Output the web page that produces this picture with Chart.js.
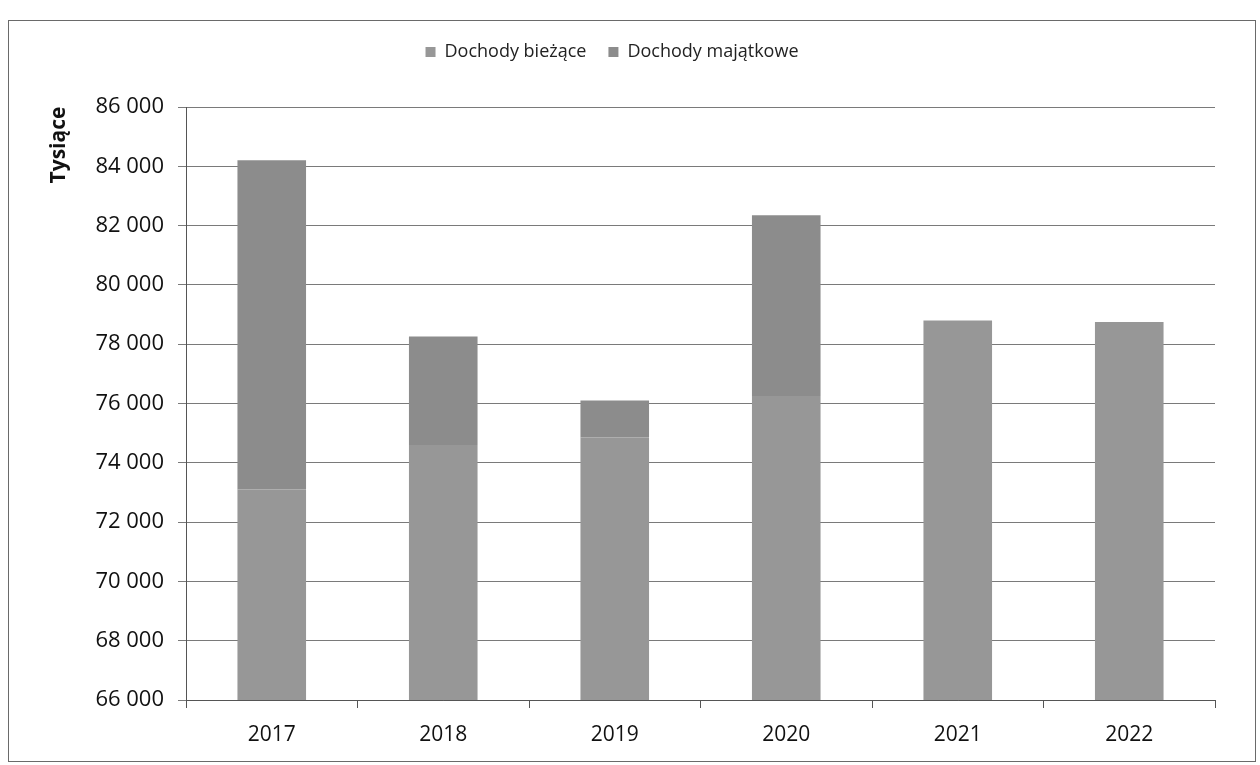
<!DOCTYPE html>
<html lang="pl">
<head>
<meta charset="UTF-8">
<title>Dochody bieżące i majątkowe</title>
<script src="https://cdn.jsdelivr.net/npm/chart.js"></script>
<style>
  body { margin: 0; background: #fff; }
  #frame { position: absolute; left: 8px; top: 20px; width: 1246px; height: 740px; border: 1px solid #6a6a6a; }
</style>
</head>
<body>
<div id="frame"><canvas id="chart"></canvas></div>
<script>
  const years = ['2017', '2018', '2019', '2020', '2021', '2022'];
  // values in thousands (Tysiące)
  const dochodyBiezace = [73100, 74600, 74850, 76250, 78800, 78750];
  const dochodyMajatkowe = [11100, 3660, 1250, 6100, 0, 0];
  const yMin = 66000, yMax = 86000, yStep = 2000;

  const fmt = v => String(v).replace(/\B(?=(\d{3})+(?!\d))/g, ' ');

  // push plot area down below the legend
  const legendSpacer = {
    id: 'legendSpacer',
    beforeInit(chart) {
      const fit = chart.legend.fit;
      chart.legend.fit = function () {
        fit.bind(chart.legend)();
        this.height += 36;
      };
    }
  };

  // rotated axis title near top of the value axis
  const axisTitle = {
    id: 'axisTitle',
    afterDraw(chart) {
      const { ctx, chartArea } = chart;
      ctx.save();
      ctx.translate(chartArea.left - 127, chartArea.top + 38);
      ctx.rotate(-Math.PI / 2);
      ctx.font = 'bold 21px "Open Sans"';
      ctx.fillStyle = '#111';
      ctx.textAlign = 'center';
      ctx.textBaseline = 'middle';
      ctx.fillText('Tysiące', 0, 0);
      ctx.restore();
    }
  };

  new Chart(document.getElementById('chart'), {
    type: 'bar',
    data: {
      labels: years,
      datasets: [
        { label: 'Dochody bieżące', data: dochodyBiezace, backgroundColor: '#979797' },
        { label: 'Dochody majątkowe', data: dochodyMajatkowe, backgroundColor: '#8c8c8c' }
      ]
    },
    options: {
      responsive: true,
      maintainAspectRatio: false,
      animation: false,
      categoryPercentage: 0.8,
      barPercentage: 0.5,
      layout: { padding: { top: 0, right: 40, bottom: 0, left: 0 } },
      plugins: {
        legend: {
          position: 'top',
          labels: {
            boxWidth: 10, boxHeight: 10, padding: 22,
            color: '#222',
            font: { family: 'Open Sans', size: 18 }
          }
        },
        tooltip: { enabled: false }
      },
      scales: {
        x: {
          stacked: true,
          afterFit: s => { s.height = 61; },
          grid: { drawOnChartArea: false, drawTicks: true, tickLength: 8, color: '#555' },
          border: { color: '#555' },
          ticks: { color: '#111', padding: 14, font: { family: 'Open Sans', size: 21 } }
        },
        y: {
          stacked: true,
          min: yMin, max: yMax,
          afterFit: s => { s.width = 177; },
          grid: { color: '#7a7a7a', tickLength: 8 },
          border: { color: '#555' },
          ticks: {
            stepSize: yStep, color: '#111', padding: 14,
            font: { family: 'Open Sans', size: 22 },
            callback: v => fmt(v)
          }
        }
      }
    },
    plugins: [legendSpacer, axisTitle]
  });
</script>
</body>
</html>
